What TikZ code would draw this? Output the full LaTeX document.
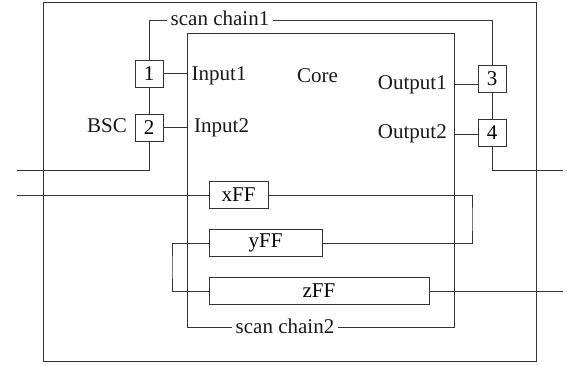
\documentclass[tikz,border=0pt]{standalone}
\usepackage{fontspec}
\setmainfont{Liberation Serif}
\begin{document}
\begin{tikzpicture}[x=1pt,y=-1pt,
  wire/.style={draw=black!80,line width=0.9pt},
  cell/.style={draw=black!80,line width=0.9pt,minimum width=28pt,minimum height=27pt,inner sep=0pt},
  ffbox/.style={draw=black!80,line width=0.9pt,minimum height=27pt,inner sep=0pt},
  frame/.style={draw=black!80,line width=0.9pt,inner sep=0pt},
  lbl/.style={inner sep=0pt,text=black!90},
  gaplbl/.style={fill=white,inner xsep=3.5pt,inner ysep=1pt,text=black!90},
  every node/.append style={font=\fontsize{21}{25}\selectfont}]
\useasboundingbox (0,0) rectangle (567,364);

% chip outline and core
\node[frame,minimum width=493pt,minimum height=359pt] (chip) at (289.5,181.5) {};
\node[frame,minimum width=267pt,minimum height=294pt] (core) at (320.5,180) {};

% boundary scan cells
\node[cell] (b1) at (149,73.5) {1};
\node[cell] (b2) at (149,127.5) {2};
\node[cell] (b3) at (492,79) {3};
\node[cell] (b4) at (492,133) {4};

% flip-flops of the internal chain
\node[ffbox,minimum width=59pt]  (xff) at (238.5,195) {xFF};
\node[ffbox,minimum width=113pt] (yff) at (265.5,243) {yFF};
\node[ffbox,minimum width=220pt] (zff) at (319,291) {zFF};

% end points and bends
\coordinate (sc1L) at (149,20);
\coordinate (sc1R) at (492,20);
\coordinate (inL) at (17,170);
\coordinate (outR) at (563,170);
\coordinate (ffL) at (17,195);
\coordinate (loopR) at (472,219);
\coordinate (loopL) at (172,267);
\coordinate (ffR) at (563,291);
\coordinate (o1) at ([yshift=-5pt]b3.west);
\coordinate (o2) at ([yshift=-1pt]b4.west);

% boundary scan chain
\draw[wire] (b1.north) -- (sc1L) -- (sc1R) -- (b3.north);
\draw[wire] (b1) -- (b2);
\draw[wire] (b3) -- (b4);
\draw[wire] (b2.south) |- (inL);
\draw[wire] (b4.south) |- (outR);

% cell to core ports
\draw[wire] (b1.east) -- (b1.east -| core.west);
\draw[wire] (b2.east) -- (b2.east -| core.west);
\draw[wire] (o1) -- (o1 -| core.east);
\draw[wire] (o2) -- (o2 -| core.east);

% internal scan chain
\draw[wire] (ffL) -- (xff.west);
\draw[wire] (xff.east) -| (loopR) |- (yff.east);
\draw[wire] (yff.west) -| (loopL) |- (zff.west);
\draw[wire] (zff.east) -- (ffR);

% labels
\node[gaplbl,anchor=base] (sc1) at (220,25) {scan chain1};
\node[gaplbl,anchor=base] (sc2) at (285,333) {scan chain2};
\node[lbl,anchor=base west] (in1) at (191.5,80) {Input1};
\node[lbl,anchor=base west] (in2) at (194,132) {Input2};
\node[lbl,anchor=base west] (bsc) at (87,132) {BSC};
\node[lbl,anchor=base west] (corelbl) at (297,82) {Core};
\node[lbl,anchor=base east] (out1) at (447,89) {Output1};
\node[lbl,anchor=base east] (out2) at (447,138) {Output2};
\end{tikzpicture}
\end{document}
